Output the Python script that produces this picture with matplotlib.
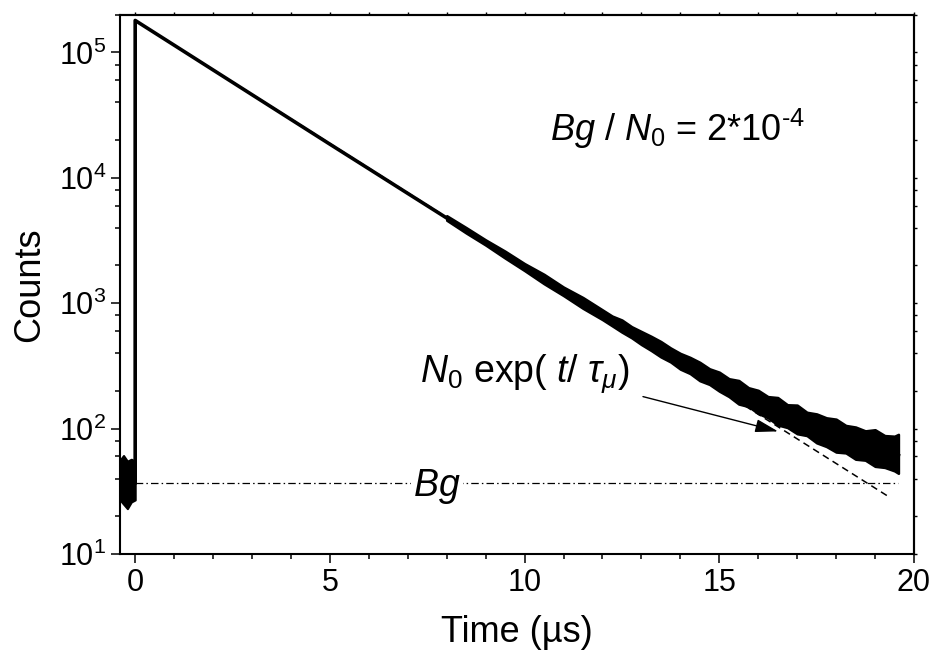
import matplotlib
matplotlib.use("Agg")
import matplotlib.pyplot as plt
from matplotlib.ticker import MultipleLocator, LogLocator, NullFormatter

# Arial-like fonts, as in the Origin export
plt.rcParams['font.family'] = ['Liberation Sans', 'DejaVu Sans']
plt.rcParams['mathtext.fontset'] = 'custom'
plt.rcParams['mathtext.rm'] = 'Liberation Sans'
plt.rcParams['mathtext.it'] = 'Liberation Sans:italic'
plt.rcParams['mathtext.default'] = 'regular'

# decay curve (centre of the trace)
t_center = [0, 0, 1, 2, 3, 4, 5, 6, 7, 8, 9, 10, 11, 12, 13, 14, 15, 16, 17, 18, 19, 19.6]
counts_center = [37, 180000, 114300, 72530, 46030, 29220, 18550, 11810, 7510, 4780, 3050,
                 1950, 1250, 807, 526, 347, 234, 162, 116, 87, 69, 61]

# noise band of the trace (upper / lower edge)
t_env = [8.0, 8.5, 9.0, 9.5, 10.0, 10.5, 11.0, 11.5,
         12.0, 12.25, 12.5, 12.75, 13.0, 13.25, 13.5, 13.75, 14.0, 14.25, 14.5, 14.75,
         15.0, 15.25, 15.5, 15.75, 16.0, 16.25, 16.5, 16.75, 17.0, 17.25, 17.5, 17.75,
         18.0, 18.25, 18.5, 18.75, 19.0, 19.25, 19.5, 19.6]
env_upper = [4990, 4010, 3200, 2600, 2070, 1700, 1345, 1110,
             885, 790, 735, 650, 595, 545, 495, 440, 398, 370, 338, 300,
             282, 250, 242, 212, 202, 180, 177, 155, 154, 135, 131, 122,
             119, 106, 103, 96, 98, 88, 87, 90]
env_lower = [4590, 3630, 2910, 2290, 1820, 1430, 1150, 910,
             740, 660, 588, 530, 468, 420, 373, 340, 298, 275, 241, 225,
             199, 180, 157, 150, 132, 122, 107, 102, 91, 88, 77, 72,
             65, 64, 57, 56, 50, 49, 46, 44]

# background before t = 0
t_pre = [-0.39, -0.3, -0.2, -0.1, 0.0]
pre_upper = [56, 61, 55, 57, 55]
pre_lower = [27, 25, 23, 26, 27]

# background level and fitted exponential
bg_t = [-0.39, 19.6]
bg_counts = [37, 37]
fit_t = [0, 19.4]
fit_counts = [180000, 28]

fig = plt.figure(figsize=(9.32, 6.52), dpi=100)
ax = fig.add_axes([120/932, 1-554/652, (914-120)/932, (554-14.7)/652])

ax.plot(fit_t, fit_counts, color='black', lw=1.1, ls=(0, (4.5, 3)), zorder=2)
ax.plot(bg_t, bg_counts, color='black', lw=0.9, ls=(0, (6, 2.5, 1.2, 2.5)), zorder=2)
ax.fill_between(t_env, env_lower, env_upper, color='black', lw=1.8, zorder=3)
ax.fill_between(t_pre, pre_lower, pre_upper, color='black', lw=1.5, zorder=3)
ax.plot(t_center, counts_center, color='black', lw=2.6, zorder=4)

ax.set_yscale('log')
ax.set_xlim(-0.39, 20)
ax.set_ylim(10, 2e5)

ax.xaxis.set_major_locator(MultipleLocator(5))
ax.xaxis.set_minor_locator(MultipleLocator(1))
ax.yaxis.set_major_locator(LogLocator(base=10))
ax.yaxis.set_minor_locator(LogLocator(base=10, subs=[2, 4, 6, 8]))
ax.yaxis.set_minor_formatter(NullFormatter())
ax.tick_params(which='major', direction='out', length=6.5, width=1.1, labelsize=22)
ax.tick_params(which='minor', direction='out', length=3.8, width=1.1)
for s in ax.spines.values():
    s.set_linewidth(1.5)

# short ticks on top and right
sx = ax.secondary_xaxis('top')
sx.xaxis.set_major_locator(MultipleLocator(5))
sx.xaxis.set_minor_locator(MultipleLocator(1))
sx.xaxis.set_major_formatter(NullFormatter())
sx.tick_params(which='both', direction='out', length=2, width=1)
sy = ax.secondary_yaxis('right')
sy.yaxis.set_major_locator(LogLocator(base=10))
sy.yaxis.set_minor_locator(LogLocator(base=10, subs=[2, 4, 6, 8]))
sy.yaxis.set_major_formatter(NullFormatter())
sy.yaxis.set_minor_formatter(NullFormatter())
sy.tick_params(which='both', direction='out', length=2, width=1)
for a in (sx, sy):
    for s in a.spines.values():
        s.set_linewidth(1.5)

ax.set_xlabel('Time (µs)', fontsize=26, labelpad=12)
ax.set_ylabel('Counts', fontsize=26, labelpad=8)

ax.text(10.65, 19600, r'$\mathit{Bg}$ / $\mathit{N}_0$ = 2*10$^{‐4}$', fontsize=26,
        ha='left', va='baseline')
ax.text(7.32, 232, r'$\mathit{N}_0$ exp( $\mathit{t}$/ $\mathit{\tau_\mu}$)', fontsize=27,
        ha='left', va='baseline', zorder=5)
ax.text(7.14, 28.8, r'$\mathit{Bg}$', fontsize=27, ha='left', va='baseline', zorder=5,
        bbox=dict(facecolor='white', edgecolor='none', pad=1.5))
ax.annotate('', xy=(16.51, 95), xytext=(13.04, 180),
            arrowprops=dict(arrowstyle='-|>,head_length=0.7,head_width=0.2', lw=1,
                            color='black', shrinkA=0, shrinkB=0, mutation_scale=20), zorder=5)

fig.savefig('out.png', dpi=100)
